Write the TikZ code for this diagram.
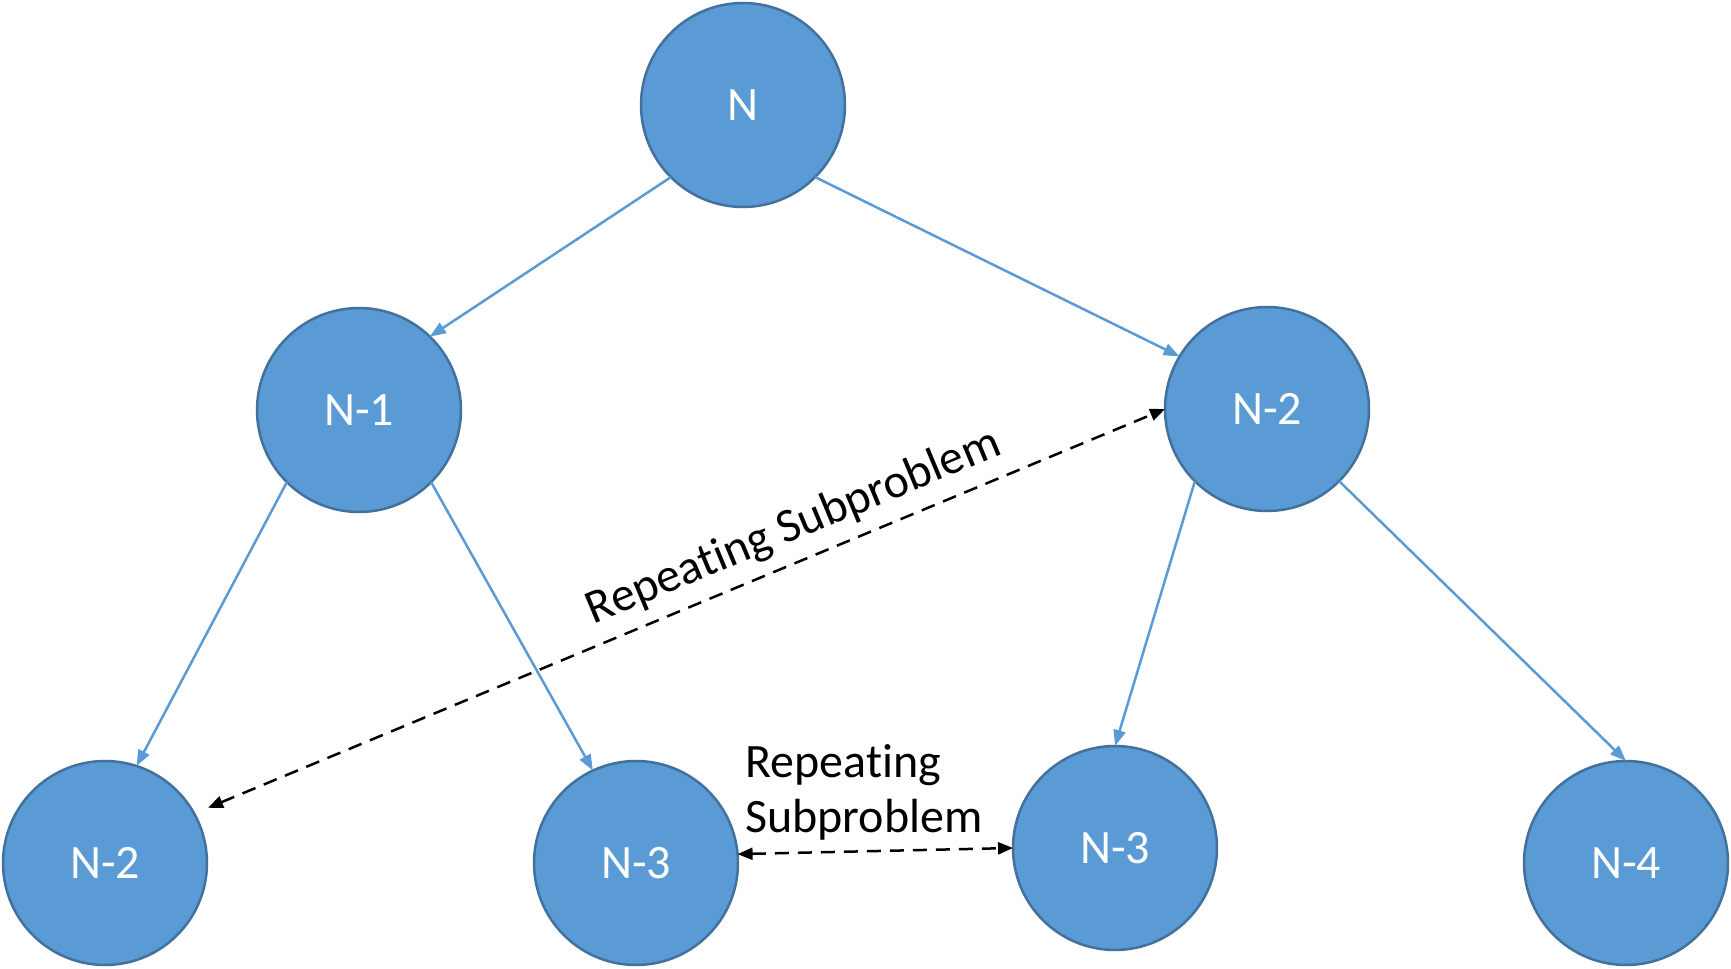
\documentclass[tikz,border=0pt]{standalone}
\usepackage{fontspec}
\setmainfont{Carlito}[Ligatures=NoCommon]
\usetikzlibrary{positioning}
\usetikzlibrary{arrows.meta}
\definecolor{nodeblue}{HTML}{5B9BD5}
\definecolor{rimblue}{HTML}{41719C}

\begin{document}
\begin{tikzpicture}[x=0.02cm,y=-0.02cm,
    tip/.style={-{Triangle[length=0.32cm,width=0.24cm]},draw=nodeblue,line width=0.05cm},
    rep/.style={{Triangle[length=0.3cm,width=0.24cm]}-{Triangle[length=0.3cm,width=0.24cm]},
        dash pattern=on 0.28cm off 0.18cm,line width=0.05cm,black},
    lbl/.style={font=\fontsize{27.3}{31.3}\selectfont,inner sep=0pt}]
    \useasboundingbox (0,0) rectangle (1731,969);
    \begin{scope}[every node/.style={shape=circle,draw=rimblue,line width=0.05cm,fill=nodeblue,
        text=white,minimum size=4.08cm,inner sep=0pt,outer sep=0pt,font=\fontsize{27.3}{33}\selectfont}]
        \node(n) at (743,105) {N};
        \node(n1) at (359,410) {N-1};
        \node(n2) at (1267,409) {N-2};
        \node(n2b) at (105,863) {N-2};
        \node(n3) at (636,863) {N-3};
        \node(n3b) at (1115,848) {N-3};
        \node(n4) at (1626,863) {N-4};
    \end{scope}
    %Lines
    \foreach \a/\b in {n.225/n1.46, n.315/n2.149, n1.225/n2b.72, n1.315/n3.115,
        n2.225/n3b.90, n2.315/n4.90}
        \draw[tip] (\a) -- (\b);
    %Repeats
    \draw[rep,shorten <=0.3cm] (n2b.29) -- node[lbl,sloped,above,pos=0.631,inner sep=0.23cm] (rep1) {Repeating Subproblem} (n2.west);
    \draw[rep] (n3.5) -- (n3b.west);
    \node[lbl,align=left,anchor=west] (rep2) at (745,792) {Repeating\\Subproblem};
\end{tikzpicture}
\end{document}
